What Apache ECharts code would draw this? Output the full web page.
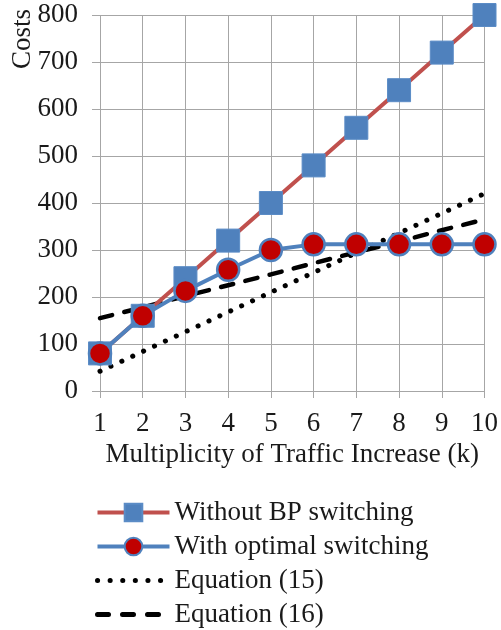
<!DOCTYPE html>
<html>
<head>
<meta charset="utf-8">
<script src="https://cdn.jsdelivr.net/npm/echarts@6/dist/echarts.min.js"></script>
<style>
  html, body { margin: 0; padding: 0; background: #fff; }
  #chart { width: 501px; height: 630px; }
</style>
</head>
<body>
<div id="chart"></div>
<script>
const K_VALUES = ['1', '2', '3', '4', '5', '6', '7', '8', '9', '10'];
const WITHOUT_BP = [80, 160, 240, 320, 400, 480, 560, 640, 720, 800];
const WITH_OPTIMAL = [80, 160, 213, 258, 300, 312, 312, 312, 312, 312];
const EQ_15 = [42, 84, 126, 168, 210, 252, 294, 336, 378, 420];
const EQ_16 = [155, 178, 202, 225, 248, 272, 295, 318, 342, 365];

const FONT = '"Liberation Serif", "Times New Roman", serif';
const RED = '#c0504d';
const BLUE = '#4f81bd';
const TEXT = '#1a1a1a';
const GRID = '#a6a6a6';

// dash patterns (round caps add half the width on both ends)
const DOTS = [0.1, 11.9];
const DASHES = [12.5, 12.5];

const chart = echarts.init(document.getElementById('chart'));

chart.setOption({
    animation: false,
    backgroundColor: '#fff',
    grid: { left: 100, right: 15, top: 15, bottom: 239 },
    legend: {
        orient: 'vertical',
        left: 95,
        top: 499,
        height: 131,
        padding: 0,
        itemWidth: 72,
        itemHeight: 22,
        itemGap: 7,
        textStyle: { fontFamily: FONT, fontSize: 27, color: TEXT },
        lineStyle: { width: 4 },
        data: [
            { name: 'Without BP switching' },
            { name: 'With optimal switching' },
            {
                name: 'Equation (15)',
                itemStyle: { color: 'transparent', borderWidth: 0 },
                lineStyle: { width: 5, type: [0.1, 12.5], cap: 'round' }
            },
            {
                name: 'Equation (16)',
                itemStyle: { color: 'transparent', borderWidth: 0 },
                lineStyle: { width: 5, type: [11, 14], cap: 'round' }
            }
        ]
    },
    graphic: [{
        type: 'text',
        left: 9,
        top: 9,
        rotation: Math.PI / 2,
        style: { text: 'Costs', font: '27px ' + FONT, fill: TEXT }
    }],
    xAxis: {
        type: 'category',
        data: K_VALUES,
        boundaryGap: false,
        name: 'Multiplicity of Traffic Increase (k)',
        nameLocation: 'middle',
        nameGap: 50,
        nameTextStyle: { fontFamily: FONT, fontSize: 27, color: TEXT },
        axisLine: { lineStyle: { color: GRID, width: 1 } },
        axisTick: { alignWithLabel: true, length: 7, lineStyle: { color: GRID } },
        axisLabel: { fontFamily: FONT, fontSize: 27, color: TEXT, margin: 19 },
        splitLine: { show: true, lineStyle: { color: GRID, width: 1 } }
    },
    yAxis: {
        type: 'value',
        min: 0,
        max: 800,
        interval: 100,
        axisLine: { show: false },
        axisTick: { show: true, length: 8, lineStyle: { color: GRID } },
        axisLabel: { fontFamily: FONT, fontSize: 27, color: TEXT, margin: 22 },
        splitLine: { lineStyle: { color: GRID, width: 1 } }
    },
    series: [
        {
            name: 'Equation (15)',
            type: 'line',
            data: EQ_15,
            symbol: 'none',
            z: 3,
            itemStyle: { color: '#000' },
            lineStyle: { color: '#000', width: 5, type: DOTS, cap: 'round' }
        },
        {
            name: 'Equation (16)',
            type: 'line',
            data: EQ_16,
            symbol: 'none',
            z: 3,
            itemStyle: { color: '#000' },
            lineStyle: { color: '#000', width: 4.5, type: DASHES, cap: 'round' }
        },
        {
            name: 'Without BP switching',
            type: 'line',
            data: WITHOUT_BP,
            symbol: 'rect',
            symbolSize: 23,
            z: 4,
            lineStyle: { color: RED, width: 4 },
            itemStyle: { color: BLUE, borderColor: '#5b8cc6', borderWidth: 1 }
        },
        {
            name: 'With optimal switching',
            type: 'line',
            data: WITH_OPTIMAL,
            symbol: 'circle',
            symbolSize: 22,
            z: 5,
            lineStyle: { color: BLUE, width: 4 },
            itemStyle: { color: '#c00000', borderColor: BLUE, borderWidth: 2.5 }
        }
    ]
});
</script>
</body>
</html>
